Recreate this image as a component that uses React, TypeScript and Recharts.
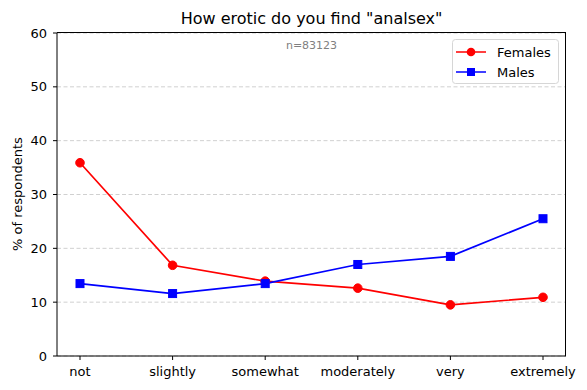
import React from "react";
import { LineChart, Line, XAxis, YAxis, CartesianGrid, Customized } from "recharts";

const categories = ["not", "slightly", "somewhat", "moderately", "very", "extremely"];
const females = [35.9, 16.85, 13.9, 12.6, 9.5, 10.9];
const males = [13.45, 11.6, 13.45, 17.0, 18.5, 25.5];
const yTicks = [0, 10, 20, 30, 40, 50, 60];
const title = 'How erotic do you find "analsex"';
const nLabel = "n=83123";
const yLabel = "% of respondents";

const data = categories.map((c, i) => ({ cat: c, Females: females[i], Males: males[i] }));

const FONT = "DejaVu Sans, sans-serif";
const RED = "#ff0000";
const BLUE = "#0000ff";

const SquareDot = (props: any) => {
  const { cx, cy, index } = props;
  if (cx == null || cy == null) return <g key={index} />;
  return <rect key={index} x={cx - 4} y={cy - 4} width={8} height={8} fill={BLUE} stroke={BLUE} />;
};

const CircleDot = (props: any) => {
  const { cx, cy, index } = props;
  if (cx == null || cy == null) return <g key={index} />;
  return <circle key={index} cx={cx} cy={cy} r={4.3} fill={RED} stroke={RED} />;
};

const Overlay = () => (
  <g fontFamily={FONT}>
    <text x={311.5} y={24} textAnchor="middle" fontSize={16} fill="#000">
      {title}
    </text>
    <text x={311.5} y={49} textAnchor="middle" fontSize={11} fill="#808080">
      {nLabel}
    </text>
    <text x={17} y={194} transform="rotate(-90 17 194)" textAnchor="middle" dominantBaseline="central" fontSize={13} fill="#000">
      {yLabel}
    </text>
    <rect x={452.5} y={39.5} width={106} height={44} rx={3} fill="#fff" fillOpacity={0.8} stroke="#d6d6d6" />
    <line x1={456} y1={52} x2={486} y2={52} stroke={RED} strokeWidth={1.5} />
    <circle cx={471} cy={52} r={4.3} fill={RED} />
    <text x={497} y={52} dominantBaseline="central" fontSize={13} fill="#000">Females</text>
    <line x1={456} y1={72} x2={486} y2={72} stroke={BLUE} strokeWidth={1.5} />
    <rect x={467} y={68} width={8} height={8} fill={BLUE} />
    <text x={497} y={72} dominantBaseline="central" fontSize={13} fill="#000">Males</text>
  </g>
);

export default function App() {
  return (
    <div style={{ position: "absolute", left: 0, top: 0, width: 587, height: 390, background: "#fff" }}>
      <LineChart width={587} height={390} data={data} margin={{ top: 33, right: 21, bottom: 4, left: 0 }}>
        <CartesianGrid vertical={false} stroke="#d0d0d0" strokeDasharray="4 2.5" />
        <XAxis
          dataKey="cat"
          height={30}
          padding={{ left: 23, right: 23 }}
          tick={{ fill: "#000", fontSize: 13, fontFamily: FONT }}
          tickLine={{ stroke: "#000" }}
          axisLine={{ stroke: "#000" }}
          tickSize={4}
          tickMargin={7}
          interval={0}
        />
        <YAxis
          domain={[0, 60]}
          ticks={yTicks}
          width={57}
          tick={{ fill: "#000", fontSize: 13, fontFamily: FONT }}
          tickLine={{ stroke: "#000" }}
          axisLine={{ stroke: "#000" }}
          tickSize={4}
          tickMargin={6}
          interval={0}
        />
        <Line dataKey="Females" stroke={RED} strokeWidth={1.7} dot={<CircleDot />} activeDot={false} isAnimationActive={false} />
        <Line dataKey="Males" stroke={BLUE} strokeWidth={1.7} dot={<SquareDot />} activeDot={false} isAnimationActive={false} />
        <Customized component={Overlay} />
      </LineChart>
      <div
        style={{
          position: "absolute",
          left: 57,
          top: 32,
          width: 508,
          height: 323,
          boxSizing: "content-box",
          borderTop: "1.5px solid #000",
          borderRight: "1.5px solid #000",
          pointerEvents: "none",
          zIndex: 10,
        }}
      />
    </div>
  );
}
